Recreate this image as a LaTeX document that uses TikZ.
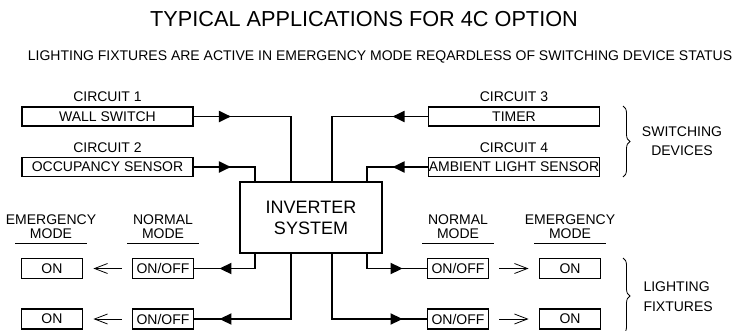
\documentclass[tikz,border=0pt]{standalone}
\usepackage{fontspec}
\setmainfont{Liberation Sans}
\usepackage{tikz}
\usetikzlibrary{arrows.meta,positioning,calc,decorations.markings,decorations.pathreplacing}

\newcommand{\fsbody}{\fontsize{14}{14}\selectfont}

\begin{document}
\begin{tikzpicture}[
  x=1pt, y=-1pt,
  devbox/.style={
    rectangle, draw, line width=1.9pt, minimum width=171pt, minimum height=19pt,
    inner sep=0pt, font=\fsbody
  },
  modebox/.style={
    rectangle, draw, line width=1.9pt, minimum width=61pt, minimum height=20pt,
    inner sep=0pt, font=\fsbody
  },
  invbox/.style={
    rectangle, draw, line width=1.9pt, minimum width=142pt, minimum height=71pt,
    align=center, font=\fontsize{18}{21}\selectfont
  },
  hdr/.style={align=center, inner sep=1pt, font=\fsbody},
  circlbl/.style={inner sep=1pt, font=\fsbody},
  rule/.style={line width=0.8pt},
  wire/.style={line width=1.9pt, postaction={decorate}},
  tipat/.style={decoration={markings,
    mark=at position #1 with {\arrow{Triangle[length=12pt,width=11pt]}}}},
  thinarr/.style={-{Straight Barb[length=13pt,width=10pt]}, line width=0.8pt,
    shorten >=10pt, shorten <=10pt},
  brc/.style={decorate, decoration={brace, amplitude=7pt}, line width=0.8pt}
]
\useasboundingbox (0,0) rectangle (745,330);

% --- Titles
\node[font=\fontsize{21.7}{22}\selectfont] (title) at (364,19) {TYPICAL APPLICATIONS FOR 4C OPTION};
\node[font=\fsbody] (sub) at (380,57) {LIGHTING FIXTURES ARE ACTIVE IN EMERGENCY MODE REQARDLESS OF SWITCHING DEVICE STATUS};

% --- Switching devices
\node[devbox] (wall)  at (107.5,116.5) {WALL SWITCH};
\node[devbox] (occ)   at (107.5,167)   {OCCUPANCY SENSOR};
\node[devbox] (timer) at (514,116.5)   {TIMER};
\node[devbox] (amb)   at (514,167)     {AMBIENT LIGHT SENSOR};
\node[circlbl, above=3pt of wall]  {CIRCUIT 1};
\node[circlbl, above=3pt of occ]   {CIRCUIT 2};
\node[circlbl, above=3pt of timer] {CIRCUIT 3};
\node[circlbl, above=3pt of amb]   {CIRCUIT 4};

% --- Inverter
\node[invbox] (inv) at (311,217.5) {INVERTER\\SYSTEM};

% --- Lighting fixtures
\node[modebox] (onL1)  at (52,268.5)  {ON};
\node[modebox] (offL1) at (163,268.5) {ON/OFF};
\node[modebox] (onL2)  at (52,319)    {ON};
\node[modebox] (offL2) at (163,319)   {ON/OFF};
\node[modebox] (offR1) at (458,268.5) {ON/OFF};
\node[modebox] (onR1)  at (570,268.5) {ON};
\node[modebox] (offR2) at (458,319)   {ON/OFF};
\node[modebox] (onR2)  at (570,319)   {ON};

% --- Column headers
\node[hdr] (emL) at (51,227)  {EMERGENCY\\MODE};
\node[hdr] (noL) at (163,227) {NORMAL\\MODE};
\node[hdr] (noR) at (458,227) {NORMAL\\MODE};
\node[hdr] (emR) at (570,227) {EMERGENCY\\MODE};
\foreach \h in {emL,noL,noR,emR}
  \draw[rule] ([xshift=-36pt,yshift=-3pt]\h.south) -- ([xshift=36pt,yshift=-3pt]\h.south);

% --- Wiring to the inverter
\draw[wire, tipat=37pt] (wall.east)  -| ([xshift=-20pt]inv.north);
\draw[wire, tipat=37pt] (occ.east)   -| ([xshift=-56pt]inv.north);
\draw[wire, tipat=35pt] (timer.west) -| ([xshift=21pt]inv.north);
\draw[wire, tipat=35pt] (amb.west)   -| ([xshift=56pt]inv.north);

% --- Wiring to the fixtures
\draw[wire, tipat=-25pt] ([xshift=-56pt]inv.south) |- (offL1.east);
\draw[wire, tipat=-25pt] ([xshift=-20pt]inv.south) |- (offL2.east);
\draw[wire, tipat=-24pt] ([xshift=56pt]inv.south)  |- (offR1.west);
\draw[wire, tipat=-24pt] ([xshift=21pt]inv.south)  |- (offR2.west);

% --- Mode arrows
\draw[thinarr] (offL1) -- (onL1);
\draw[thinarr] (offL2) -- (onL2);
\draw[thinarr] (offR1) -- (onR1);
\draw[thinarr] (offR2) -- (onR2);

% --- Braces
\coordinate (swT) at (623,106);
\coordinate (swB) at (623,177);
\coordinate (ltT) at (623,258);
\coordinate (ltB) at (623,334);
\draw[brc] (swT) -- (swB);
\draw[brc] (ltT) -- (ltB);
\node[font=\fsbody, align=center] (swlbl) at (682,141) {SWITCHING\\[5pt]DEVICES};
\node[font=\fsbody, align=left, anchor=west] (ltlbl) at (640,297) {LIGHTING\\[6pt]FIXTURES};

\end{tikzpicture}
\end{document}
